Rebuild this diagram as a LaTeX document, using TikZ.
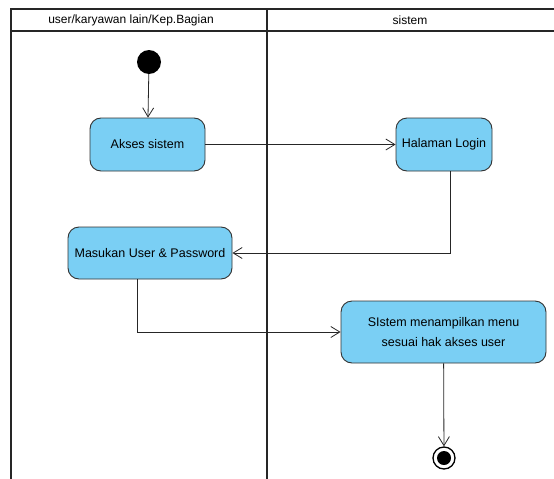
\documentclass[tikz,border=0pt]{standalone}
\usepackage{fontspec}
\setmainfont{Liberation Sans}
\usetikzlibrary{arrows.meta}
\definecolor{actfill}{RGB}{122,207,244}
\definecolor{actdraw}{RGB}{50,50,50}
\begin{document}
\begin{tikzpicture}[x=1pt,y=-1pt,
  act/.style={draw=actdraw,fill=actfill,rounded corners=11pt,line width=0.9pt,align=center,font=\fontsize{12.5}{20}\selectfont,inner sep=0pt},
  flow/.style={draw=black!85,line width=0.8pt,-{Straight Barb[length=9pt,width=11pt]}},
  lane/.style={line width=1.8pt,draw=black!85}]
\useasboundingbox (0,0) rectangle (554,479);
% swimlanes
\draw[lane] (11,479) -- (11,9) -- (560,9);
\draw[lane] (11,31) -- (560,31);
\draw[lane] (267,9) -- (267,479);
\node[font=\fontsize{12}{14}\selectfont] (h1) at (131,20) {user/karyawan lain/Kep.Bagian};
\node[font=\fontsize{12}{14}\selectfont] (h2) at (410,20) {sistem};
% nodes
\node[circle,fill=black,inner sep=0pt,minimum size=24pt] (start) at (149,62) {};
\node[act,minimum width=115pt,minimum height=53pt] (akses) at (147.5,144.5) {Akses sistem};
\node[act,minimum width=96pt,minimum height=53pt] (login) at (444,144.5) {Halaman Login};
\node[act,minimum width=164pt,minimum height=52pt] (masuk) at (150,253) {Masukan User \& Password};
\node[act,minimum width=205pt,minimum height=62pt] (menu) at (443.5,332) {SIstem menampilkan menu\\sesuai hak akses user};
\node[circle,draw=black,line width=1.3pt,fill=white,inner sep=0pt,minimum size=22pt] (end) at (444,458) {};
\node[circle,fill=black,inner sep=0pt,minimum size=14pt] (endin) at (end) {};
% connectors
\draw[flow] (start) -- (akses);
\draw[flow] (akses) -- (login);
\draw[flow] (login.south -| 450,0) |- (masuk.east);
\draw[flow] (masuk.south -| 137,0) |- (menu.west);
\draw[flow] (menu) -- (end);
\end{tikzpicture}
\end{document}
